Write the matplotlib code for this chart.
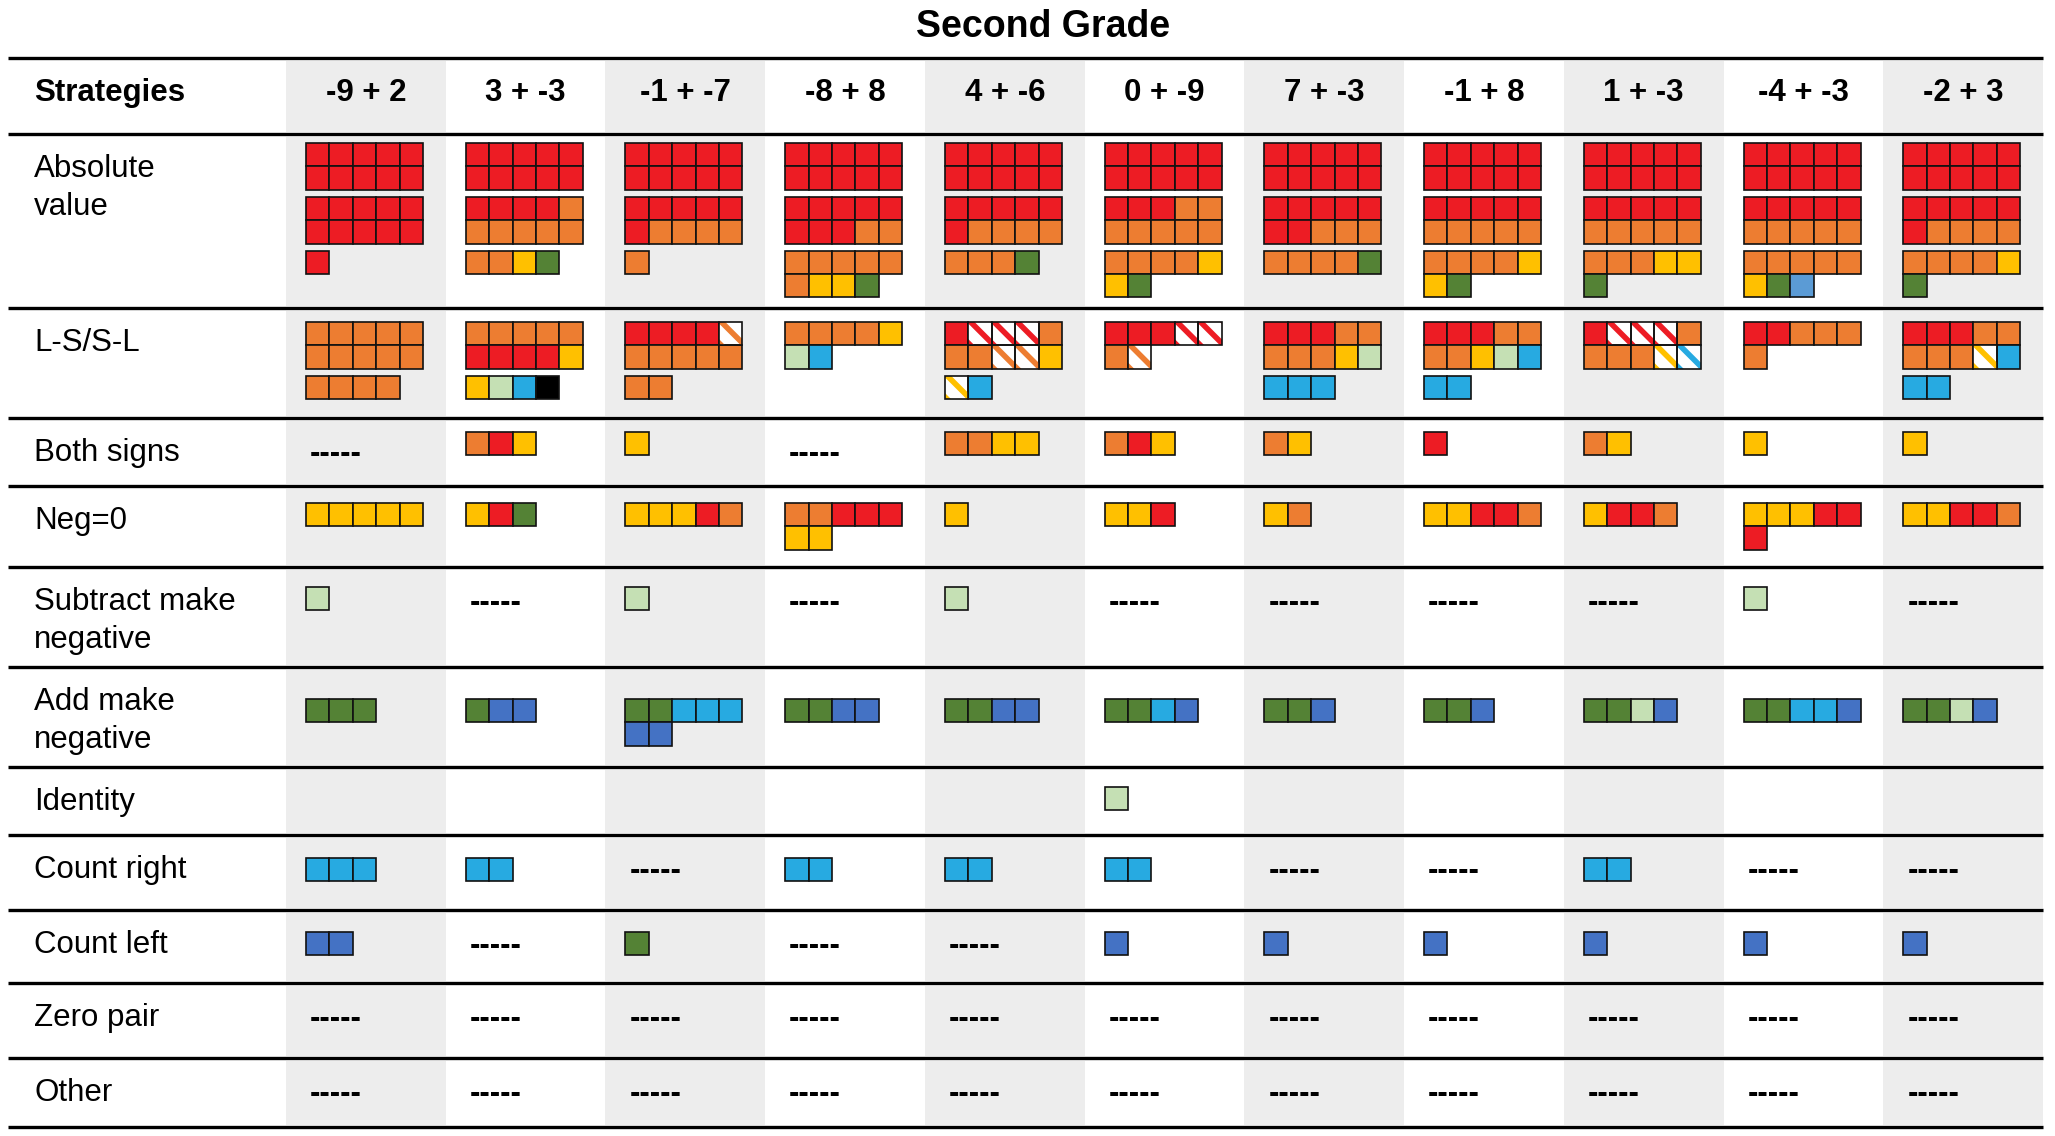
import matplotlib
matplotlib.use('Agg')
import matplotlib.pyplot as plt
from matplotlib.patches import Rectangle

plt.rcParams['font.family'] = ['Liberation Sans', 'DejaVu Sans']

# ---- data ----
title = 'Second Grade'
problems = ['-9 + 2', '3 + -3', '-1 + -7', '-8 + 8', '4 + -6', '0 + -9',
            '7 + -3', '-1 + 8', '1 + -3', '-4 + -3', '-2 + 3']
strategies = ['Absolute\nvalue', 'L-S/S-L', 'Both signs', 'Neg=0',
              'Subtract make\nnegative', 'Add make\nnegative', 'Identity',
              'Count right', 'Count left', 'Zero pair', 'Other']

# one entry per problem: None -> "-----", [] -> empty, else list of groups
# codes: upper case = solid square, lower case = hatched square
absolute_value = [
    ['RRRRRRRRRR', 'RRRRRRRRRR', 'R'],
    ['RRRRRRRRRR', 'RRRROOOOOO', 'OOYG'],
    ['RRRRRRRRRR', 'RRRRRROOOO', 'O'],
    ['RRRRRRRRRR', 'RRRRRRRROO', 'OOOOOOYYG'],
    ['RRRRRRRRRR', 'RRRRRROOOO', 'OOOG'],
    ['RRRRRRRRRR', 'RRROOOOOOO', 'OOOOYYG'],
    ['RRRRRRRRRR', 'RRRRRRROOO', 'OOOOG'],
    ['RRRRRRRRRR', 'RRRRROOOOO', 'OOOOYYG'],
    ['RRRRRRRRRR', 'RRRRROOOOO', 'OOOYYG'],
    ['RRRRRRRRRR', 'RRRRROOOOO', 'OOOOOYGP'],
    ['RRRRRRRRRR', 'RRRRRROOOO', 'OOOOYG'],
]
ls_sl = [
    ['OOOOOOOOOO', 'OOOO'],
    ['OOOOORRRRY', 'YLCK'],
    ['RRRRoOOOOO', 'OO'],
    ['OOOOYLC'],
    ['RrrrOOOooY', 'yC'],
    ['RRRrrOo'],
    ['RRROOOOOYL', 'CCC'],
    ['RRROOOOYLC', 'CC'],
    ['RrrrOOOOyc'],
    ['RROOOO'],
    ['RRROOOOOyC', 'CC'],
]
both_signs = [None, ['ORY'], ['Y'], None, ['OOYY'], ['ORY'], ['OY'], ['R'],
              ['OY'], ['Y'], ['Y']]
neg_zero = [['YYYYY'], ['YRG'], ['YYYRO'], ['OORRRYY'], ['Y'], ['YYR'], ['YO'],
            ['YYRRO'], ['YRRO'], ['YYYRRR'], ['YYRRO']]
subtract_neg = [['L'], None, ['L'], None, ['L'], None, None, None, None,
                ['L'], None]
add_neg = [['GGG'], ['GBB'], ['GGCCCBB'], ['GGBB'], ['GGBB'], ['GGCB'], ['GGB'],
           ['GGB'], ['GGLB'], ['GGCCB'], ['GGLB']]
identity = [[], [], [], [], [], ['L'], [], [], [], [], []]
count_right = [['CCC'], ['CC'], None, ['CC'], ['CC'], ['CC'], None, None,
               ['CC'], None, None]
count_left = [['BB'], None, ['G'], None, None, ['B'], ['B'], ['B'], ['B'],
              ['B'], ['B']]
zero_pair = [None] * 11
other = [None] * 11

table = [absolute_value, ls_sl, both_signs, neg_zero, subtract_neg, add_neg,
         identity, count_right, count_left, zero_pair, other]

colors = {'R': '#ED1C24', 'O': '#ED7D31', 'Y': '#FFC000', 'G': '#548235',
          'L': '#C5E0B4', 'C': '#27AAE1', 'B': '#4472C4', 'K': '#000000',
          'P': '#5B9BD5'}

# ---- layout (pixels) ----
W, H = 2055, 1136
left, right = 8, 2043
col0 = 286
colw = (right - col0) / len(problems)
header_top = 58
row_tops = [134, 308, 418, 486, 567, 667, 767, 835, 910, 983, 1058, 1127]
sq_offset = [9, 14, 14, 17, 20, 32, 20, 23, 22, 20, 20]
cell = 23.4
gap = 7
gray = '#EDEDED'

fig = plt.figure(figsize=(W / 100, H / 100), dpi=100)
ax = fig.add_axes([0, 0, 1, 1])
ax.set_xlim(0, W)
ax.set_ylim(H, 0)
ax.axis('off')

# gray column shading
bands = [header_top] + row_tops
for j in range(len(problems)):
    if j % 2 == 0:
        for top, bot in zip(bands[:-1], bands[1:]):
            ax.add_patch(Rectangle((col0 + j * colw, top + 3), colw, bot - top - 5,
                                   facecolor=gray, edgecolor='none', zorder=0))

# horizontal rules
for y in bands:
    ax.plot([left, right], [y, y], color='black', lw=2.4, solid_capstyle='butt',
            zorder=3)

ax.text(1043, 27, title, ha='center', va='center', fontsize=27,
        fontweight='bold')
ax.text(34, 93, 'Strategies', ha='left', va='center', fontsize=22.5,
        fontweight='bold')
for j, p in enumerate(problems):
    ax.text(col0 + (j + 0.5) * colw, 93, p, ha='center', va='center',
            fontsize=22.5, fontweight='bold')


def draw_square(x, y, code):
    if code.isupper():
        ax.add_patch(Rectangle((x, y), cell, cell, facecolor=colors[code],
                               edgecolor='#111111', lw=1.2, zorder=2))
        return
    box = Rectangle((x, y), cell, cell, facecolor='white', edgecolor='none',
                    zorder=2)
    ax.add_patch(box)
    for d in (-0.9 * cell, 0.1 * cell, 1.1 * cell):
        ln, = ax.plot([x + d - cell * 0.3, x + d + cell * 1.3],
                      [y - cell * 0.3, y + cell * 1.3],
                      color=colors[code.upper()], lw=4, zorder=2.1)
        ln.set_clip_path(box)
    ax.add_patch(Rectangle((x, y), cell, cell, facecolor='none',
                           edgecolor='#111111', lw=1.2, zorder=2.2))


for i, (label, entries) in enumerate(zip(strategies, table)):
    top = row_tops[i]
    for k, line in enumerate(label.split('\n')):
        ax.text(34, top + 35 + k * 38, line, ha='left', va='center',
                fontsize=22.5)
    for j, groups in enumerate(entries):
        x0 = col0 + j * colw + 20
        if groups is None:
            ax.text(x0 + 4, top + 35 + 8.7, '-----', ha='left', va='baseline',
                    fontsize=22.5, fontweight='bold')
            continue
        y = top + sq_offset[i]
        for g in groups:
            for n, code in enumerate(g):
                draw_square(x0 + (n % 5) * cell, y + (n // 5) * cell, code)
            y += ((len(g) - 1) // 5 + 1) * cell + gap

fig.savefig('out.png', dpi=100)
